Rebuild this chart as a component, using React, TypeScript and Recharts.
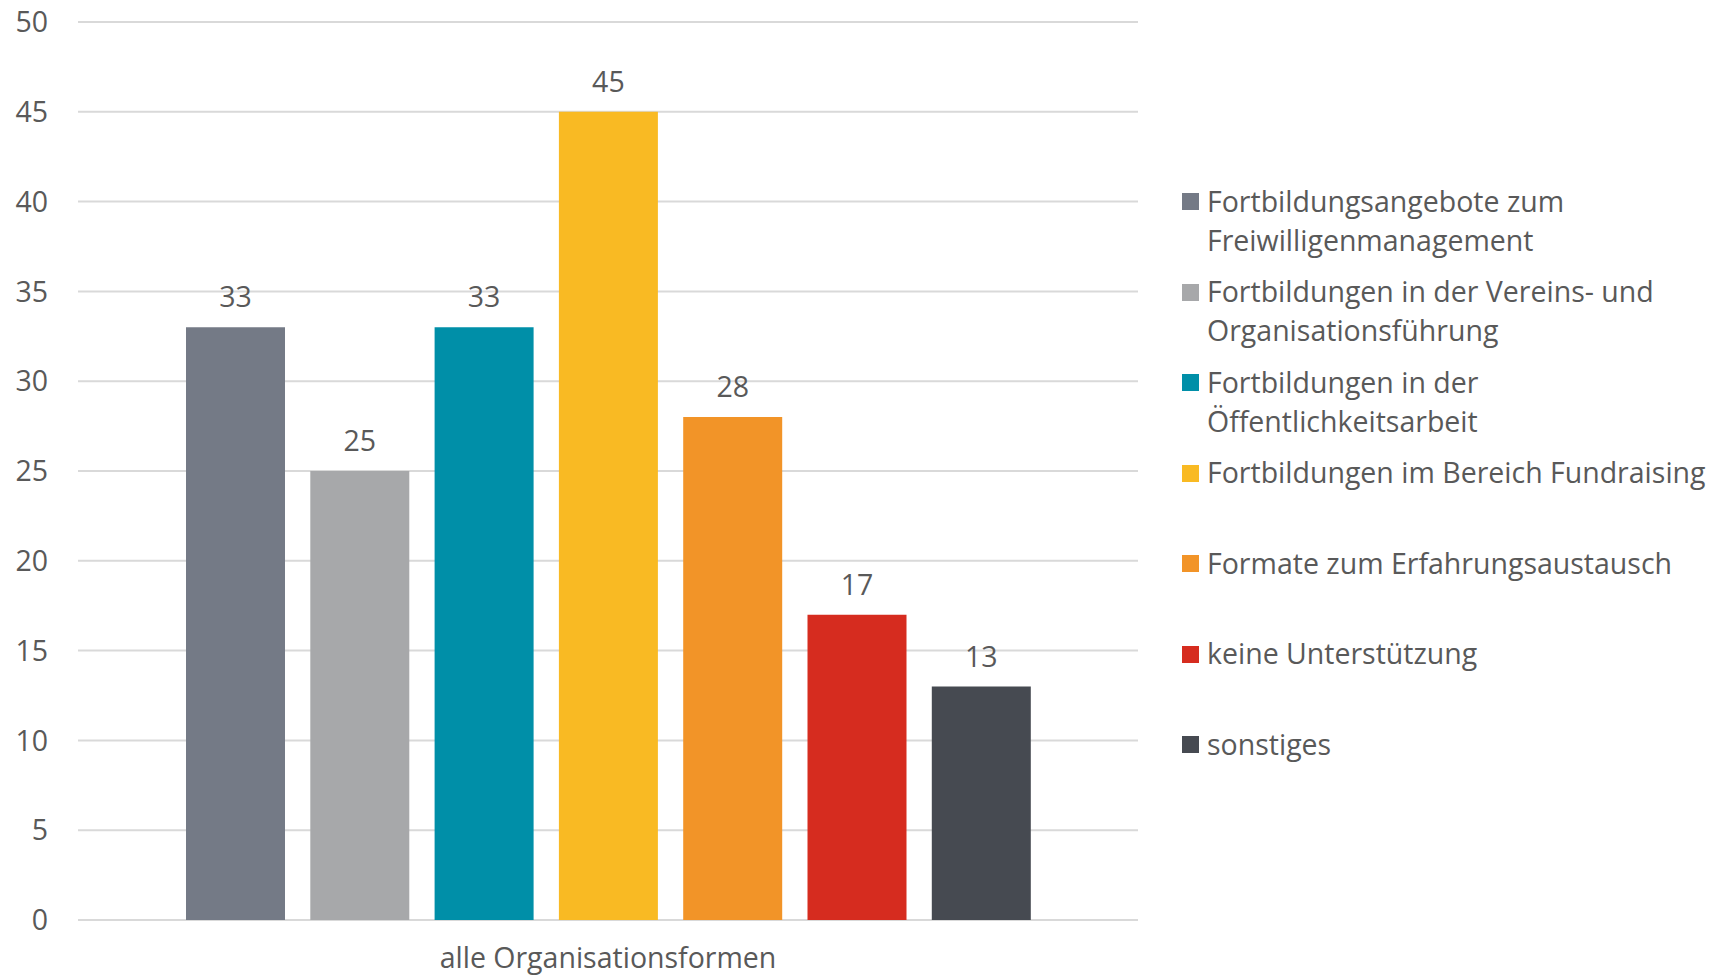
import React from 'react';
import { BarChart, Bar, XAxis, YAxis, CartesianGrid, Legend, LabelList } from 'recharts';

const categories = ['alle Organisationsformen'];
const seriesNames = [
  'Fortbildungsangebote zum Freiwilligenmanagement',
  'Fortbildungen in der Vereins- und Organisationsführung',
  'Fortbildungen in der Öffentlichkeitsarbeit',
  'Fortbildungen im Bereich Fundraising',
  'Formate zum Erfahrungsaustausch',
  'keine Unterstützung',
  'sonstiges',
];
const seriesValues = [33, 25, 33, 45, 28, 17, 13];
const seriesColors = ['#747a86', '#a7a8aa', '#008fa8', '#f9ba23', '#f29428', '#d62c1f', '#464a51'];
const yTicks = [0, 5, 10, 15, 20, 25, 30, 35, 40, 45, 50];

const data = categories.map((c) => {
  const row: Record<string, string | number> = { category: c };
  seriesNames.forEach((_, i) => {
    row['s' + i] = seriesValues[i];
  });
  return row;
});

const TEXT = '#595959';
const FONT = '"Open Sans", sans-serif';
const FS = 28.5;

const renderLegend = (props: any) => {
  const payload = [...(props.payload || [])].sort(
    (a: any, b: any) => seriesNames.indexOf(a.value) - seriesNames.indexOf(b.value)
  );
  return (
    <div style={{ fontFamily: FONT, fontSize: FS, color: TEXT, lineHeight: '39px' }}>
      {payload.map((e: any, i: number) => (
        <div key={i} style={{ position: 'relative', height: 90.5, paddingLeft: 25 }}>
          <span
            style={{ position: 'absolute', left: 0, top: 11.9, width: 17, height: 17, background: e.color }}
          />
          <div style={{ width: 510 }}>{e.value}</div>
        </div>
      ))}
    </div>
  );
};

export default function App() {
  return (
    <div style={{ position: 'absolute', left: 0, top: 0, width: 1716, height: 976, background: '#fff', fontFamily: FONT }}>
      <BarChart
        width={1716}
        height={976}
        data={data}
        margin={{ top: 22, right: 578, bottom: 0, left: 0 }}
        barSize={99}
        barGap={25.3}
      >
        <CartesianGrid vertical={false} stroke="#d9d9d9" strokeWidth={2} />
        <XAxis
          dataKey="category"
          height={56}
          axisLine={false}
          tickLine={false}
          tickSize={0}
          tickMargin={28}
          tick={{ fontSize: FS, fill: TEXT, fontFamily: FONT }}
        />
        <YAxis
          width={78}
          domain={[0, 50]}
          ticks={yTicks}
          interval={0}
          axisLine={false}
          tickLine={false}
          tickSize={0}
          tickMargin={30}
          tick={{ fontSize: FS, fill: TEXT, fontFamily: FONT }}
        />
        <Legend
          layout="vertical"
          align="center"
          verticalAlign="middle"
          content={renderLegend}
          wrapperStyle={{ left: 1182, top: 181.6, width: 534 }}
        />
        {seriesNames.map((name, i) => (
          <Bar key={i} dataKey={'s' + i} name={name} fill={seriesColors[i]} isAnimationActive={false}>
            <LabelList dataKey={'s' + i} position="top" offset={20} fill={TEXT} fontSize={FS} fontFamily={FONT} />
          </Bar>
        ))}
      </BarChart>
    </div>
  );
}
